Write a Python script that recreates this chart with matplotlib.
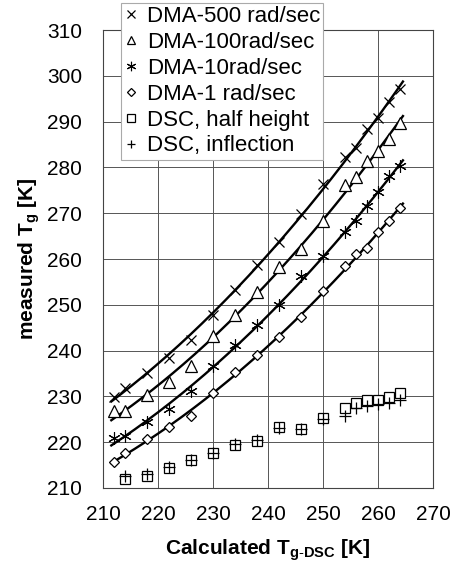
import numpy as np
import matplotlib
matplotlib.use("Agg")
import matplotlib.pyplot as plt

plt.rcParams['font.family'] = ['Liberation Sans', 'DejaVu Sans']
plt.rcParams['mathtext.fontset'] = 'custom'
plt.rcParams['mathtext.rm'] = 'Liberation Sans'
plt.rcParams['mathtext.bf'] = 'Liberation Sans:bold'

# ---------- data ----------
dma_x = [212, 214, 218, 222, 226, 230, 234, 238, 242, 246, 250, 254, 256, 258, 260, 262, 264]
dma_500 = [229.9, 231.9, 235.2, 238.3, 242.3, 247.8, 253.2, 258.7, 263.8, 269.8,
           276.4, 282.2, 284.2, 288.3, 290.7, 294.4, 297.1]
dma_100 = [226.8, 226.8, 230.2, 233.2, 236.7, 243.2, 247.8, 252.9, 258.2, 262.2,
           268.4, 276.2, 278.0, 281.3, 283.5, 286.2, 289.7]
dma_10 = [220.8, 221.4, 224.3, 227.2, 231.2, 236.7, 241.2, 245.6, 250.0, 256.3,
          260.6, 266.0, 268.4, 271.5, 274.7, 278.1, 280.3]
dma_1 = [215.7, 217.7, 220.6, 223.3, 225.7, 230.8, 235.3, 239.0, 243.0, 247.4,
         253.0, 258.5, 261.1, 262.3, 265.8, 268.4, 271.1]

dsc_x = [214, 218, 222, 226, 230, 234, 238, 242, 246, 250, 254, 256, 258, 260, 262, 264]
dsc_half = [211.9, 212.6, 214.3, 216.0, 217.7, 219.4, 220.3, 223.2, 222.8, 225.3,
            227.4, 228.6, 229.2, 229.1, 229.9, 230.8]
dsc_infl = [212.5, 213.0, 214.5, 216.2, 217.7, 219.6, 220.5, 223.0, 222.8, 225.1,
            225.6, 227.4, 227.8, 228.3, 228.5, 229.1]

series = [
    ("DMA-500 rad/sec", dma_500, dict(marker='x', ms=7, mew=0.9)),
    ("DMA-100rad/sec", dma_100, dict(marker='^', ms=8, mew=0.9, mfc='white')),
    ("DMA-10rad/sec", dma_10, dict(marker=(6, 2, 0), ms=9, mew=0.8)),
    ("DMA-1 rad/sec", dma_1, dict(marker='D', ms=5, mew=0.9, mfc='white')),
]

fig = plt.figure(figsize=(4.56, 5.68), dpi=100)
ax = fig.add_axes([0.226, 0.141, 0.724, 0.806])

xfit = np.linspace(211.5, 264.5, 200)
for label, ys, style in series:
    ax.plot(dma_x, ys, ls='none', color='black', label=label, zorder=3, **style)
    # quadratic trend through each DMA frequency
    coef = np.polyfit(dma_x, ys, 2)
    ax.plot(xfit, np.polyval(coef, xfit), color='black', lw=1.7, zorder=2)

ax.plot(dsc_x, dsc_half, ls='none', marker='s', ms=7.5, mew=0.9, mfc='white',
        color='black', label='DSC, half height', zorder=3)
ax.plot(dsc_x, dsc_infl, ls='none', marker='+', ms=8, mew=0.9,
        color='black', label='DSC, inflection', zorder=4)

ax.set_xlim(210, 270)
ax.set_ylim(210, 310)
ax.set_xticks(np.arange(210, 271, 10))
ax.set_yticks(np.arange(210, 311, 10))
ax.tick_params(length=0, labelsize=15)
ax.tick_params(axis='x', pad=12)
ax.tick_params(axis='y', pad=15)
ax.grid(True, color='#555555', lw=0.7)
ax.set_axisbelow(True)
for s in ax.spines.values():
    s.set_linewidth(0.8)
    s.set_color('#444444')

ax.set_xlabel(r'Calculated T$_\mathbf{g\text{-}DSC}$ [K]', fontsize=15,
              fontweight='bold', labelpad=10)
ax.set_ylabel(r'measured T$_\mathbf{g}$ [K]', fontsize=15,
              fontweight='bold', labelpad=4)

leg = ax.legend(loc='upper left', bbox_to_anchor=(0.055, 1.06), fontsize=16,
                markerscale=0.75, handlelength=0.6, handletextpad=0.4,
                labelspacing=0.22, borderpad=0.15, borderaxespad=0,
                frameon=True, fancybox=False, framealpha=1)
leg.get_frame().set_edgecolor('#aaaaaa')
leg.get_frame().set_linewidth(0.8)
leg.set_zorder(5)

fig.savefig('out.png', dpi=100)
